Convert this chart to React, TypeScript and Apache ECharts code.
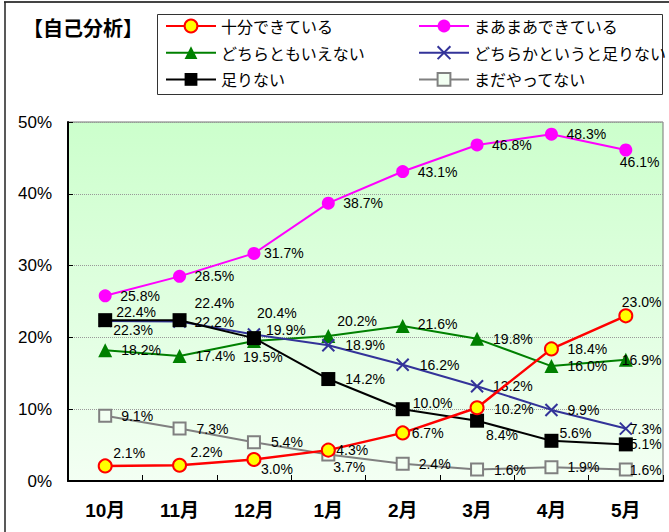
import React, { useEffect, useRef } from "react";
import * as echarts from "echarts";

// ---- data ----
const MONTHS = ["10月", "11月", "12月", "1月", "2月", "3月", "4月", "5月"];
const SERIES_NAMES = [
  "十分できている",
  "まあまあできている",
  "どちらともいえない",
  "どちらかというと足りない",
  "足りない",
  "まだやってない",
];
const JUUBUN = [2.1, 2.2, 3.0, 4.3, 6.7, 10.2, 18.4, 23.0];
const MAAMAA = [25.8, 28.5, 31.7, 38.7, 43.1, 46.8, 48.3, 46.1];
const DOCHIRA = [18.2, 17.4, 19.5, 20.2, 21.6, 19.8, 16.0, 16.9];
const DOCHIRAKA = [22.3, 22.2, 20.4, 18.9, 16.2, 13.2, 9.9, 7.3];
const TARINAI = [22.4, 22.4, 19.9, 14.2, 10.0, 8.4, 5.6, 5.1];
const MADA = [9.1, 7.3, 5.4, 3.7, 2.4, 1.6, 1.9, 1.6];
const Y_MIN = 0;
const Y_MAX = 50;
const Y_STEP = 10;
const TITLE = "【自己分析】";

// ---- label placement (style): [dx to label's left edge, dy to label's centre] ----
const OFF_JUUBUN = [[8, -13], [11, -13], [7, 10], [8, 0], [9, 0], [17, 1], [16, 0], [-4, -14]];
const OFF_MAAMAA = [[15, 0], [15, 0], [10, 0], [15, 0], [15, 0], [15, 0], [15, 0], [-6, 12]];
const OFF_DOCHIRA = [[16, 0], [16, 0], [-11, 16], [9, -15], [15, -2], [16, 0], [16, 0], [-4, 0]];
const OFF_DOCHIRAKA = [[8, 9], [15, 0], [3, -22], [17, 0], [17, 0], [16, 0], [16, 0], [4, 0]];
const OFF_TARINAI = [[11, -8], [15, -17], [12, -8], [17, 0], [10, -6], [9, 14], [8, -8], [4, 0]];
const OFF_MADA = [[16, 0], [17, 0], [17, 0], [5, 13], [16, 0], [17, 0], [16, 0], [4, 0]];

const LATIN = "'Liberation Sans', Arial, 'Noto Sans CJK JP', sans-serif";
const CJK = "'Noto Sans CJK JP', sans-serif";

function withLabels(values: number[], offsets: number[][]) {
  return values.map((v, i) => ({
    value: v,
    label: { offset: offsets[i] },
  }));
}

export default function App() {
  const ref = useRef<HTMLDivElement>(null);
  useEffect(() => {
    if (!ref.current) return;
    const chart = echarts.init(ref.current, undefined, { renderer: "svg" });
    const label = {
      show: true,
      position: "inside",
      align: "left",
      verticalAlign: "middle",
      color: "#000",
      fontSize: 14,
      fontFamily: LATIN,
      formatter: (p: any) => `${Number(p.value).toFixed(1)}%`,
    };
    const mk = (
      name: string,
      values: number[],
      offsets: number[][],
      color: string,
      symbol: string,
      symbolSize: number,
      itemStyle: any,
      z: number,
      width = 2
    ) => ({
      name,
      type: "line",
      data: withLabels(values, offsets),
      symbol,
      symbolSize,
      lineStyle: { color, width },
      itemStyle,
      label,
      z,
      emphasis: { disabled: true },
    });
    const legendBase = {
      orient: "vertical",
      top: 13,
      itemWidth: 50,
      itemHeight: 16,
      itemGap: 10.7,
      padding: 5,
      textStyle: { fontSize: 16, fontFamily: CJK, color: "#000", lineHeight: 16 },
    };
    const option: any = {
      animation: false,
      backgroundColor: "#ffffff",
      title: {
        text: TITLE,
        left: 18,
        top: 12,
        textStyle: { fontSize: 20, fontWeight: "bold", fontFamily: CJK, color: "#000" },
      },
      legend: [
        { ...legendBase, left: 160, data: [SERIES_NAMES[0], SERIES_NAMES[2], SERIES_NAMES[4]] },
        { ...legendBase, left: 413, data: [SERIES_NAMES[1], SERIES_NAMES[3], SERIES_NAMES[5]] },
      ],
      graphic: [
        {
          type: "rect",
          shape: { x: 157.5, y: 14.5, width: 505, height: 80 },
          style: { fill: "none", stroke: "#333", lineWidth: 1 },
          silent: true,
        },
        {
          type: "line",
          shape: { x1: 4, y1: 2, x2: 669, y2: 2 },
          style: { stroke: "#444", lineWidth: 2 },
          silent: true,
        },
        {
          type: "line",
          shape: { x1: 5, y1: 2, x2: 5, y2: 532 },
          style: { stroke: "#222", lineWidth: 1.5 },
          silent: true,
        },
      ],
      grid: {
        left: 68,
        right: 6,
        top: 122,
        bottom: 51,
        show: true,
        borderColor: "#777",
        borderWidth: 1,
        backgroundColor: new echarts.graphic.LinearGradient(0, 0, 0, 1, [
          { offset: 0, color: "#ccffcc" },
          { offset: 1, color: "#f3fff3" },
        ]),
      },
      xAxis: {
        type: "category",
        data: MONTHS,
        boundaryGap: true,
        axisLine: { show: true, lineStyle: { color: "#000", width: 2 } },
        axisTick: { show: true, inside: true, length: 6, interval: 0, lineStyle: { color: "#000", width: 1 } },
        axisLabel: { margin: 20, fontSize: 19, fontWeight: "bold", fontFamily: LATIN, color: "#000", interval: 0 },
        splitLine: { show: false },
      },
      yAxis: {
        type: "value",
        min: Y_MIN,
        max: Y_MAX,
        interval: Y_STEP,
        axisLine: { show: true, lineStyle: { color: "#000", width: 2 } },
        axisTick: { show: true, inside: true, length: 5, lineStyle: { color: "#000", width: 1 } },
        axisLabel: { margin: 16, fontSize: 17, fontFamily: LATIN, color: "#000", formatter: "{value}%" },
        splitLine: { show: true, lineStyle: { color: "#999", type: "dotted", width: 1 } },
      },
      series: [
        mk(SERIES_NAMES[5], MADA, OFF_MADA, "#808080", "rect", 12,
          { color: "#f2fff2", borderColor: "#808080", borderWidth: 2 }, 2),
        mk(SERIES_NAMES[2], DOCHIRA, OFF_DOCHIRA, "#008000", "triangle", 14,
          { color: "#008000" }, 3),
        mk(SERIES_NAMES[3], DOCHIRAKA, OFF_DOCHIRAKA, "#333399", "path://M0,0L10,10M10,0L0,10", 12,
          { color: "#333399", borderColor: "#333399", borderWidth: 2 }, 4),
        mk(SERIES_NAMES[4], TARINAI, OFF_TARINAI, "#000000", "rect", 14,
          { color: "#000000" }, 5),
        mk(SERIES_NAMES[1], MAAMAA, OFF_MAAMAA, "#ff00ff", "circle", 13,
          { color: "#ff00ff" }, 6),
        mk(SERIES_NAMES[0], JUUBUN, OFF_JUUBUN, "#ff0000", "circle", 13,
          { color: "#ffff00", borderColor: "#ff0000", borderWidth: 2 }, 7, 2.5),
      ],
    };
    chart.setOption(option);
    return () => chart.dispose();
  }, []);
  return (
    <div
      ref={ref}
      style={{ position: "fixed", left: 0, top: 0, width: 669, height: 532 }}
    />
  );
}
